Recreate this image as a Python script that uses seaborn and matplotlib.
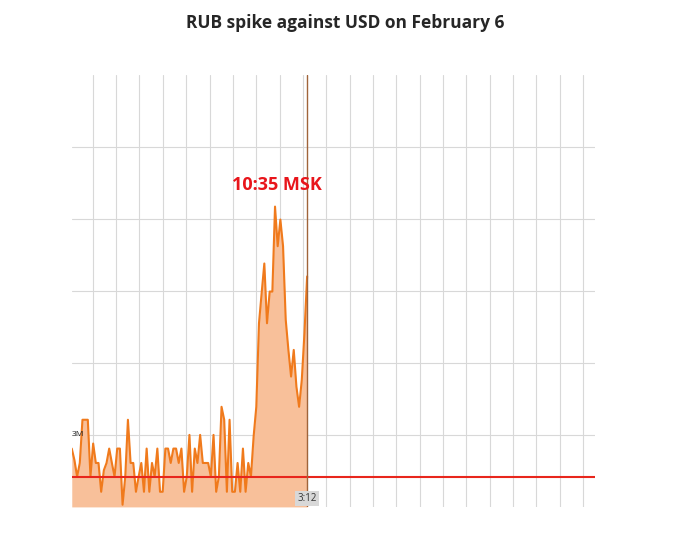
import numpy as np
import matplotlib
matplotlib.use("Agg")
import matplotlib.pyplot as plt
import seaborn as sns

# rate trace (gridline units)
rate = [0.81, 0.65, 0.42, 0.61, 1.21, 1.21, 1.21, 0.42, 0.88, 0.61, 0.61, 0.21, 0.51, 0.61, 0.81,
        0.61, 0.42, 0.81, 0.81, 0.03, 0.42, 1.21, 0.61, 0.61, 0.21, 0.42, 0.61, 0.21, 0.81, 0.21,
        0.61, 0.42, 0.81, 0.21, 0.21, 0.81, 0.81, 0.61, 0.81, 0.81, 0.61, 0.81, 0.21, 0.42, 1.0,
        0.21, 0.81, 0.61, 1.0, 0.61, 0.61, 0.61, 0.42, 1.0, 0.21, 0.42, 1.39, 1.21, 0.21, 1.21,
        0.21, 0.21, 0.61, 0.21, 0.81, 0.21, 0.61, 0.42, 0.98, 1.39, 2.55, 2.97, 3.38, 2.55, 2.99,
        2.99, 4.17, 3.62, 3.99, 3.62, 2.60, 2.18, 1.81, 2.18, 1.67, 1.39, 1.76, 2.41, 3.2]
x_start, x_end = -0.9, 9.18
baseline = 0.42
event_label = "10:35 MSK"
cursor_label = "3:12"
title = "RUB spike against USD on February 6"

x = np.linspace(x_start, x_end, len(rate))

sns.set_style("white")
plt.rcParams['font.family'] = ['Open Sans', 'DejaVu Sans']
fig = plt.figure(figsize=(6.9, 5.54), dpi=100)
ax = fig.add_axes([0.104, 0.085, 0.758, 0.78])

ax.fill_between(x, rate, 0, color="#f8c09a", lw=0)
sns.lineplot(x=x, y=rate, ax=ax, color="#f07a1c", lw=1.5)
ax.axhline(baseline, color="#e8261c", lw=1.5)
ax.axvline(x_end, color="#a0643a", lw=1)

ax.set_xlim(x_start, 21.5)
ax.set_ylim(0, 6.0)
ax.set_xticks(range(0, 22))
ax.set_yticks(range(1, 6))
ax.grid(True, color="#d8d8d8", lw=0.8)
ax.tick_params(length=0, labelbottom=False, labelleft=False)
for s in ax.spines.values():
    s.set_visible(False)

ax.text(7.9, 4.47, event_label, color="#e8151b", fontsize=13, fontweight="bold",
        ha="center", va="center")
ax.text(x_end, 0.12, cursor_label, fontsize=7, ha="center", va="center", color="#333",
        bbox=dict(boxstyle="square,pad=0.2", fc="#d8d8d8", ec="none"))
ax.text(x_start, 1.0, "3M", fontsize=6, ha="left", va="center", color="#222")

fig.suptitle(title, y=0.975, fontsize=12.5, fontweight="bold")
fig.savefig("out.png", dpi=100)
